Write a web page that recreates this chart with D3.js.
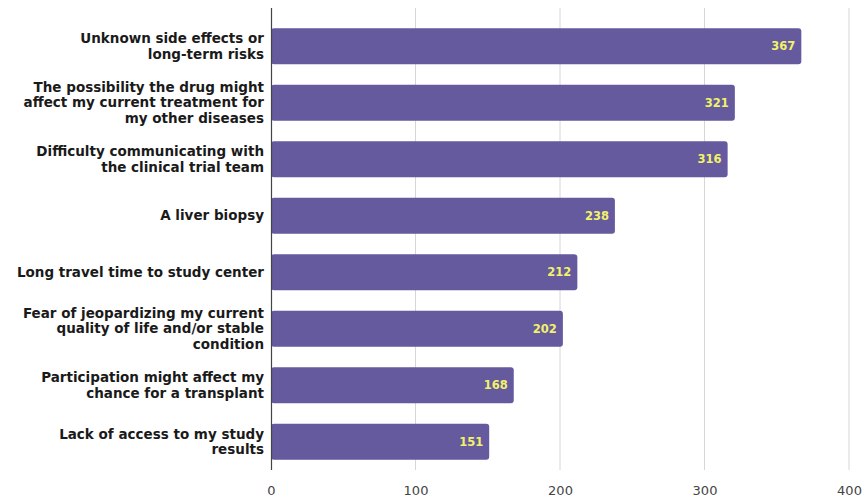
<!DOCTYPE html>
<html><head><meta charset="utf-8">
<script src="https://cdn.jsdelivr.net/npm/d3@7/dist/d3.min.js"></script>
<style>body{margin:0;background:#fff}svg{display:block}</style>
</head><body><svg id="c" width="864" height="502"></svg>
<script>
const categories = [
  ["Unknown side effects or", "long-term risks"],
  ["The possibility the drug might", "affect my current treatment for", "my other diseases"],
  ["Difficulty communicating with", "the clinical trial team"],
  ["A liver biopsy"],
  ["Long travel time to study center"],
  ["Fear of jeopardizing my current", "quality of life and/or stable", "condition"],
  ["Participation might affect my", "chance for a transplant"],
  ["Lack of access to my study", "results"]
];
const values = [367, 321, 316, 238, 212, 202, 168, 151];
const ticks = [0, 100, 200, 300, 400];

const svg = d3.select("#c");
const x = d3.scaleLinear().domain([0, 400]).range([271, 849]);
const y = d3.scaleBand().domain(d3.range(values.length)).range([18, 470]).paddingInner(0.36).paddingOuter(0.18);

// gridlines
svg.append("g").selectAll("line").data(ticks.slice(1)).join("line")
  .attr("x1", d => x(d)).attr("x2", d => x(d))
  .attr("y1", 8).attr("y2", 470)
  .attr("stroke", "#d6d6d6").attr("stroke-width", 1);

// bars
svg.append("g").selectAll("rect").data(values).join("rect")
  .attr("x", x(0)).attr("y", (d, i) => y(i))
  .attr("width", d => x(d) - x(0)).attr("height", y.bandwidth())
  .attr("rx", 3).attr("fill", "#645a9d");

// zero axis line
svg.append("line").attr("x1", x(0) + 0.5).attr("x2", x(0) + 0.5).attr("y1", 8).attr("y2", 470)
  .attr("stroke", "#444").attr("stroke-width", 1.2);

// value labels
svg.append("g").selectAll("text").data(values).join("text")
  .attr("x", d => x(d) - 6).attr("y", (d, i) => y(i) + y.bandwidth() / 2)
  .attr("dy", "0.35em").attr("text-anchor", "end")
  .attr("font-family", "DejaVu Sans, Verdana, sans-serif").attr("font-weight", "bold")
  .attr("font-size", 11.5).attr("fill", "#f2f26a")
  .text(d => d);

// category labels
const lh = 15.5;
const cg = svg.append("g");
categories.forEach((lines, i) => {
  const cy = y(i) + y.bandwidth() / 2;
  const t = cg.append("text").attr("text-anchor", "end")
    .attr("font-family", "DejaVu Sans, Verdana, sans-serif").attr("font-weight", "bold")
    .attr("font-size", 13.5).attr("fill", "#1a1a1a");
  lines.forEach((l, j) => {
    t.append("tspan").attr("x", 264)
      .attr("y", cy + (j - (lines.length - 1) / 2) * lh)
      .attr("dy", "0.35em").text(l);
  });
});

// x axis tick labels
const ax = d3.axisBottom(x).tickValues(ticks).tickSize(0).tickPadding(0).tickFormat(d3.format("d"));
const g = svg.append("g").attr("transform", "translate(0,486)").call(ax);
g.select(".domain").remove();
g.selectAll("text").attr("font-family", "DejaVu Sans, Verdana, sans-serif")
  .attr("font-size", 13).attr("fill", "#444");
</script></body></html>
